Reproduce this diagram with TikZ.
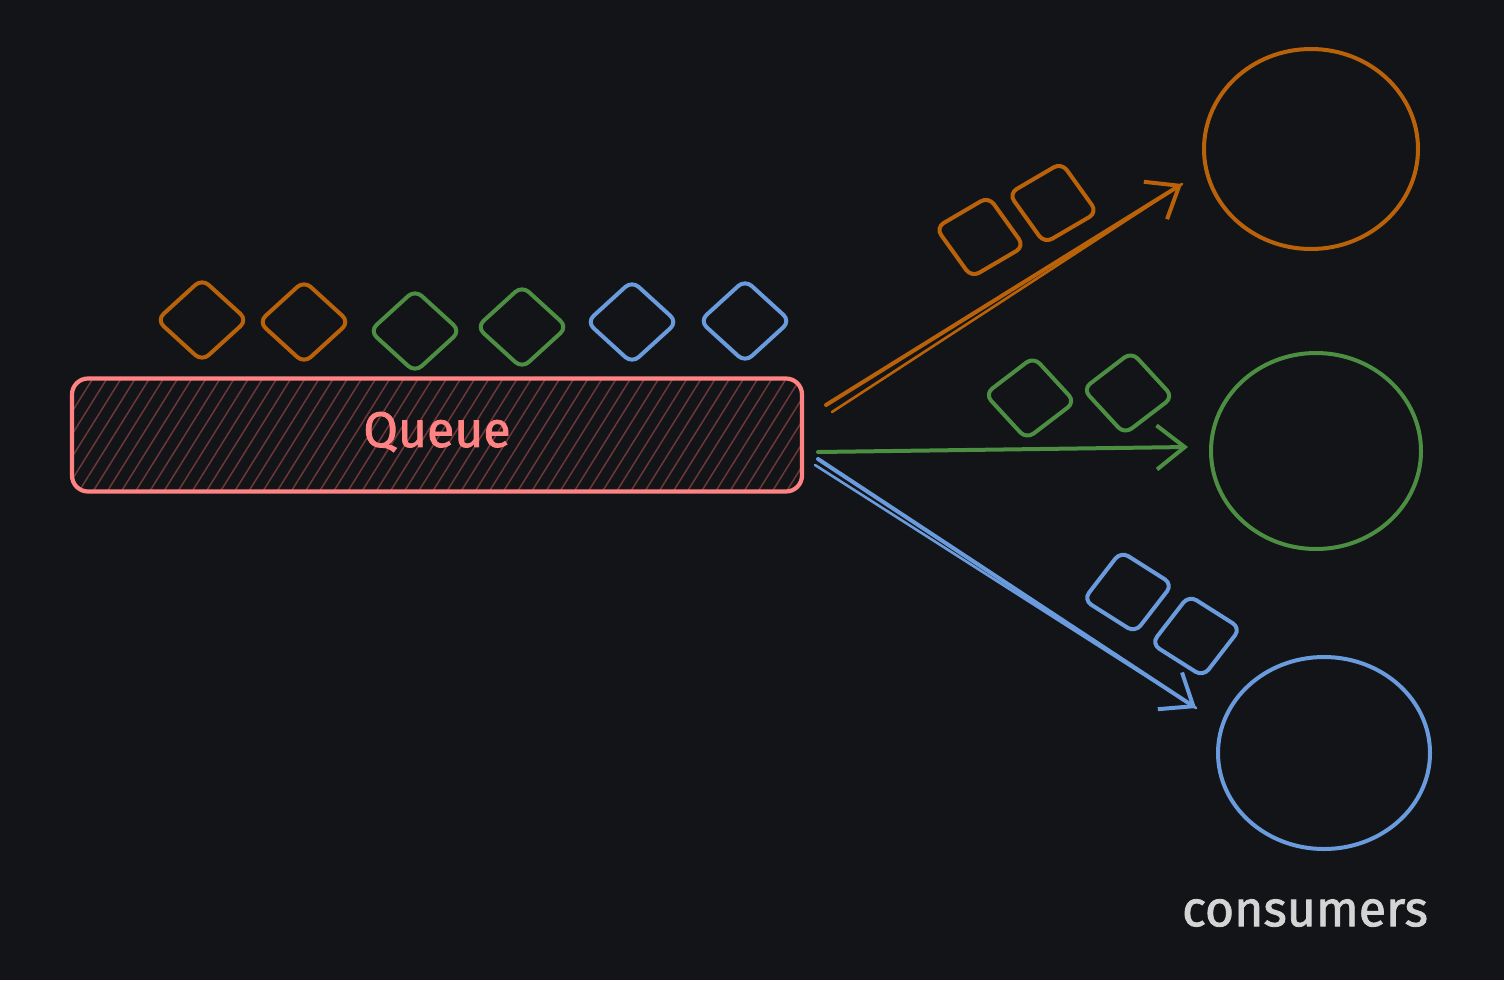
\documentclass[tikz,border=0pt]{standalone}
\usepackage{fontspec}
\setmainfont{Fira Sans}
\usetikzlibrary{shapes.geometric,arrows.meta,patterns.meta}
\definecolor{bg}{HTML}{121418}
\definecolor{corange}{HTML}{B9620A}
\definecolor{cgreen}{HTML}{4C8F42}
\definecolor{cblue}{HTML}{6A9BDD}
\definecolor{cred}{HTML}{FF8383}
\definecolor{chatch}{HTML}{6E3838}
\definecolor{ctext}{HTML}{D4D4D4}
\tikzset{
  item/.style={shape=diamond, draw=#1, line width=4pt, rounded corners=9pt,
    minimum width=92pt, minimum height=84pt, inner sep=0pt},
  consumer/.style={shape=ellipse, draw=#1, line width=4pt, inner sep=0pt},
  flow/.style={draw=#1, line width=4pt, line cap=round,
    -{Straight Barb[length=28pt,width=44pt,line width=4pt]}},
  trace/.style={draw=#1, line width=2.6pt, line cap=round},
  label/.style={text=#1, font=\fontsize{50}{54}\selectfont\addfontfeature{FakeBold=1.6}},
}
\begin{document}
\begin{tikzpicture}[x=1pt,y=-1pt]
\fill[bg] (0,0) rectangle (1504,980);
\useasboundingbox (0,0) rectangle (1504,980);
% queue
\node[draw=cred, line width=4.2pt, rounded corners=16pt,
  pattern={Lines[angle=58,distance=12pt,line width=1.5pt]}, pattern color=chatch,
  minimum width=730pt, minimum height=113pt, inner sep=0pt] (queue) at (437,435) {};
\node[label=cred] (qlabel) at (437,432) {Queue};
% items above the queue
\node[item=corange] (i1) at (202,320) {};
\node[item=corange] (i2) at (304,322) {};
\node[item=cgreen] (i3) at (415,331) {};
\node[item=cgreen] (i4) at (522,327) {};
\node[item=cblue] (i5) at (632,322) {};
\node[item=cblue] (i6) at (745,321) {};
% consumers
\node[consumer=corange, minimum width=214pt, minimum height=200pt] (c1) at (1311,149) {};
\node[consumer=cgreen, minimum width=210pt, minimum height=196pt] (c2) at (1316,451) {};
\node[consumer=cblue, minimum width=212pt, minimum height=192pt] (c3) at (1324,753) {};
\node[label=ctext] (clabel) at (1305,913) {consumers};
% arrow ends
\coordinate (s1) at (826,405);
\coordinate (t1) at (832,412);
\coordinate (e1) at (1182,184);
\coordinate (s2) at (818,452);
\coordinate (e2) at (1188,447);
\coordinate (s3) at (818,459);
\coordinate (t3) at (815,465);
\coordinate (e3) at (1196,708);
\draw[trace=corange] (t1) -- (e1);
\draw[trace=cblue] (t3) -- (e3);
\draw[flow=corange] (s1) -- (e1);
\draw[flow=cgreen] (s2) -- (e2);
\draw[flow=cblue] (s3) -- (e3);
% items on the arrows
\node[item=corange, rotate=-12] (a1) at (980,237) {};
\node[item=corange, rotate=-12] (a2) at (1053,203) {};
\node[item=cgreen, rotate=-5] (b1) at (1030,398) {};
\node[item=cgreen, rotate=-5] (b2) at (1128,393) {};
\node[item=cblue, rotate=10] (d1) at (1128,592) {};
\node[item=cblue, rotate=10] (d2) at (1196,636) {};
\end{tikzpicture}
\end{document}
